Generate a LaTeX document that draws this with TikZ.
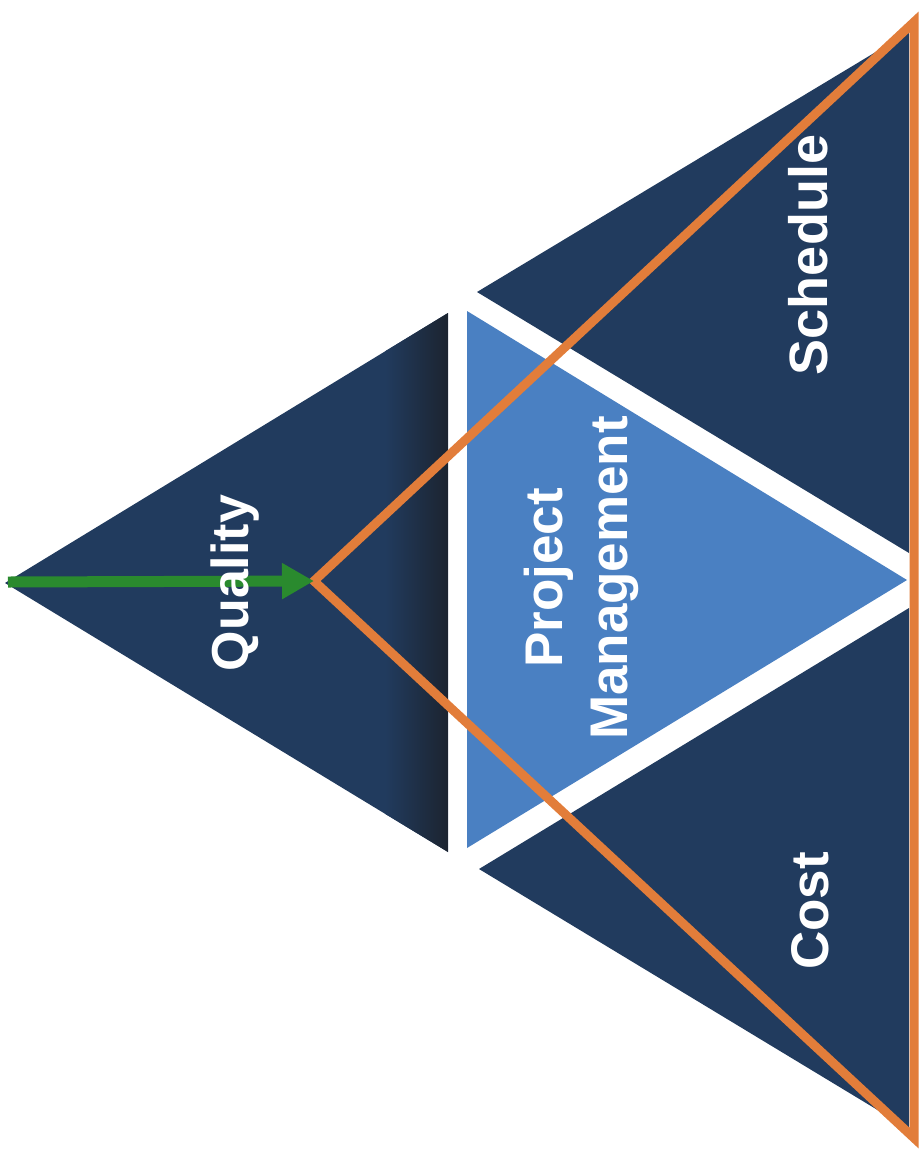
\documentclass[tikz,border=0pt]{standalone}
\usepackage{fontspec}
\setmainfont{Liberation Sans}
\usetikzlibrary{arrows.meta}
\definecolor{navy}{HTML}{213B5E}
\definecolor{navydark}{HTML}{1C2430}
\definecolor{pmblue}{HTML}{4A80C2}
\definecolor{orng}{HTML}{E27D3A}
\definecolor{grn}{HTML}{2A8A2E}
\begin{document}
\begin{tikzpicture}[x=1pt,y=-1pt,
  navytri/.style={fill=navy},
  lbl/.style={text=white, rotate=90, inner sep=0pt},
  greenarrow/.style={draw=grn, line width=11pt, -{Triangle[length=32pt,width=34pt]}},
  orangeline/.style={draw=orng, line width=9pt, line join=miter}]
\fill[white] (0,0) rectangle (921,1157);
% Quality triangle with darker base
\fill[navytri] (5,583) -- (448,313) -- (448,852) -- cycle;
\begin{scope}
  \clip (5,583) -- (448,313) -- (448,852) -- cycle;
  \shade[left color=navy, right color=navydark] (385,300) rectangle (448,870);
\end{scope}
% Project Management triangle
\fill[pmblue] (467,311) -- (467,848) -- (907,580) -- cycle;
% Schedule triangle
\fill[navytri] (477,292) -- (909,32) -- (909,553) -- cycle;
% Cost triangle
\fill[navytri] (479,869) -- (909,608) -- (909,1129) -- cycle;
% orange triangle
\coordinate (oapex) at (314,581);
\coordinate (otop) at (914,22);
\coordinate (obot) at (914,1138);
\draw[orangeline] (oapex) -- (otop) -- (obot) -- cycle;
% green arrow
\coordinate (qapex) at (8,582);
\draw[greenarrow] (qapex) -- (oapex);
% labels
\node[lbl, anchor=base, font=\bfseries\fontsize{52}{62}\selectfont] (quality) at (248,583) {Quality};
\node[lbl, anchor=base, font=\bfseries\fontsize{54}{64}\selectfont] (schedule) at (827,255) {Schedule};
\node[lbl, anchor=base, font=\bfseries\fontsize{53}{63}\selectfont] (cost) at (828,911) {Cost};
\node[lbl, align=center, font=\bfseries\fontsize{53}{65}\selectfont] (pm) at (581,578) {Project\\Management};
\end{tikzpicture}
\end{document}
